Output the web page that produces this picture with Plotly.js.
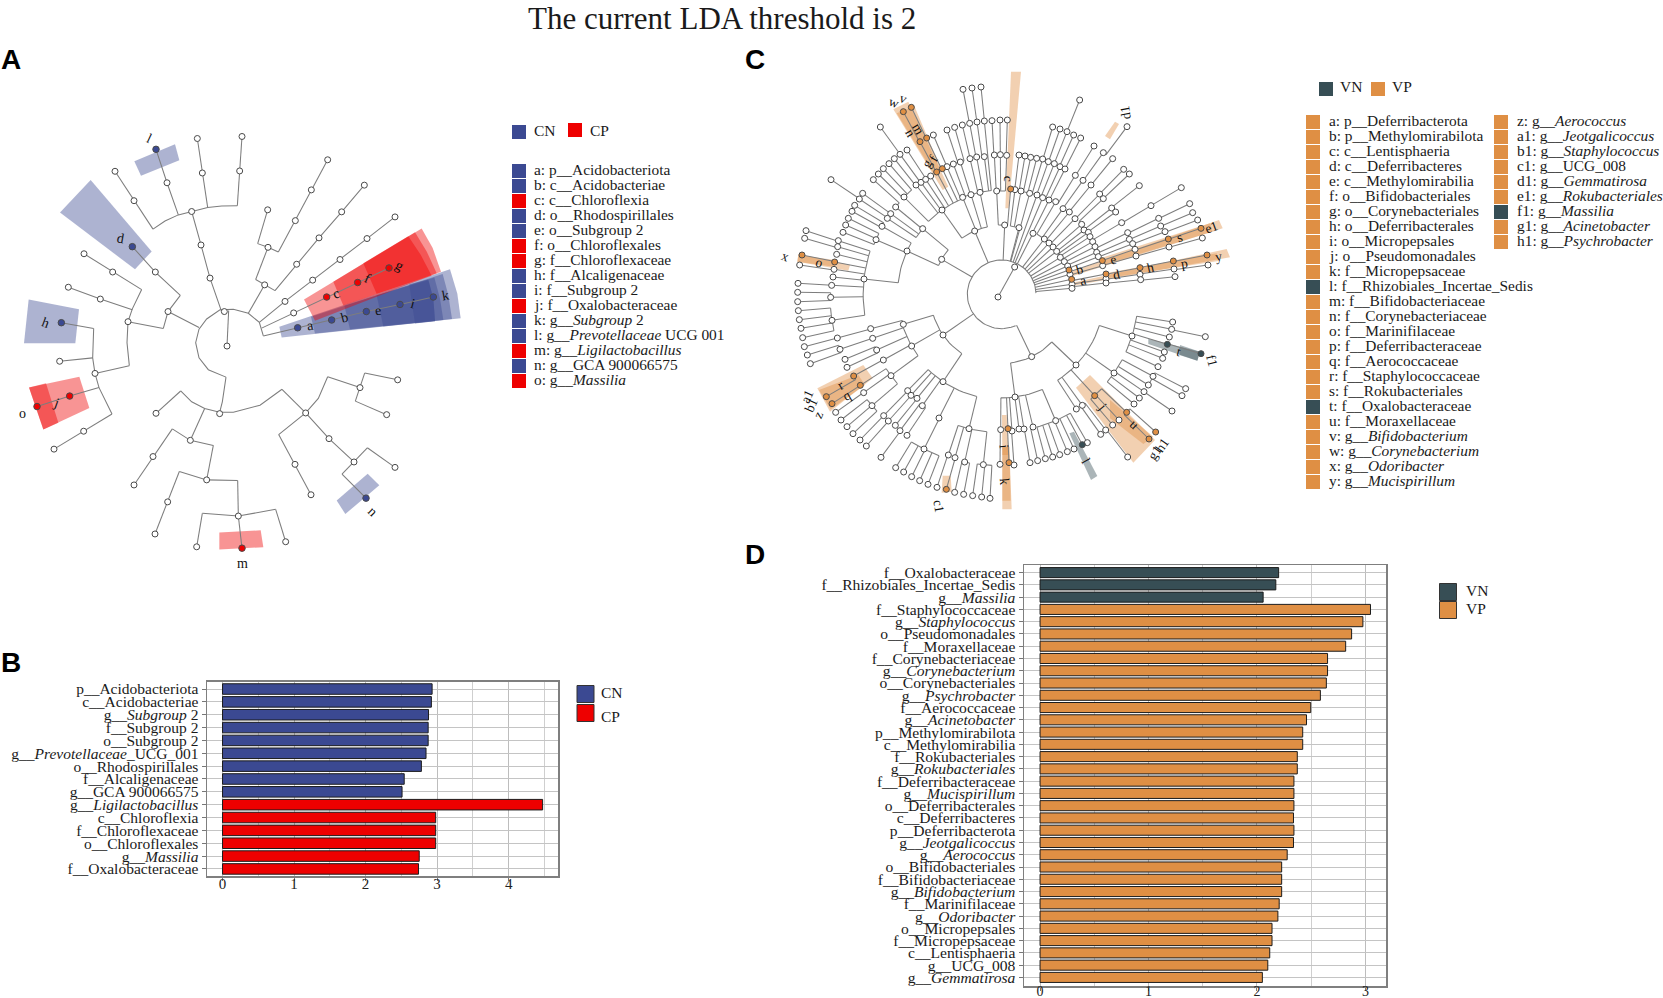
<!DOCTYPE html>
<html><head><meta charset="utf-8">
<script src="https://cdn.plot.ly/plotly-3.0.1.min.js"></script>
<style>html,body{margin:0;padding:0;background:#fff;overflow:hidden}</style>
</head><body><div id="chart" style="width:1663px;height:998px"></div>
<script>
const CN='#3B4992',CP='#EE0000',VN='#374E55',VP='#DF8F44';
const FONT='"Liberation Serif","Times New Roman",serif';

/* ---------- panel B bars ---------- */
const bLabels=['p__Acidobacteriota','c__Acidobacteriae','g__<i>Subgroup</i> 2','f__Subgroup 2','o__Subgroup 2','g__<i>Prevotellaceae</i>_UCG_001','o__Rhodospirillales','f__Alcaligenaceae','g__GCA 900066575','g__<i>Ligilactobacillus</i>','c__Chloroflexia','f__Chloroflexaceae','o__Chloroflexales','g__<i>Massilia</i>','f__Oxalobacteraceae'];
const bValues=[2.93,2.92,2.88,2.875,2.875,2.845,2.78,2.54,2.51,4.475,2.98,2.98,2.98,2.75,2.74];
const bGroups=['CN','CN','CN','CN','CN','CN','CN','CN','CN','CP','CP','CP','CP','CP','CP'];

/* ---------- panel D bars ---------- */
const dLabels=['f__Oxalobacteraceae','f__Rhizobiales_Incertae_Sedis','g__<i>Massilia</i>','f__Staphylococcaceae','g__<i>Staphylococcus</i>','o__Pseudomonadales','f__Moraxellaceae','f__Corynebacteriaceae','g__<i>Corynebacterium</i>','o__Corynebacteriales','g__<i>Psychrobacter</i>','f__Aerococcaceae','g__<i>Acinetobacter</i>','p__Methylomirabilota','c__Methylomirabilia','f__Rokubacteriales','g__<i>Rokubacteriales</i>','f__Deferribacteraceae','g__<i>Mucispirillum</i>','o__Deferribacterales','c__Deferribacteres','p__Deferribacterota','g__<i>Jeotgalicoccus</i>','g__<i>Aerococcus</i>','o__Bifidobacteriales','f__Bifidobacteriaceae','g__<i>Bifidobacterium</i>','f__Marinifilaceae','g__<i>Odoribacter</i>','o__Micropepsales','f__Micropepsaceae','c__Lentisphaeria','g__UCG_008','g__<i>Gemmatirosa</i>'];
const dValues=[2.20,2.174,2.057,3.047,2.977,2.873,2.818,2.651,2.651,2.64,2.585,2.496,2.457,2.422,2.422,2.372,2.372,2.341,2.341,2.341,2.337,2.341,2.337,2.279,2.228,2.228,2.228,2.205,2.193,2.139,2.139,2.118,2.10,2.05];
const dGroupCounts={VN:3,VP:31};

/* ---------- panel A legend ---------- */
const aKeys=['a: p__Acidobacteriota','b: c__Acidobacteriae','c: c__Chloroflexia','d: o__Rhodospirillales','e: o__Subgroup 2','f: o__Chloroflexales','g: f__Chloroflexaceae','h: f__Alcaligenaceae','i: f__Subgroup 2','j: f__Oxalobacteraceae','k: g__<i>Subgroup</i> 2','l: g__<i>Prevotellaceae</i> UCG 001','m: g__<i>Ligilactobacillus</i>','n: g__GCA 900066575','o: g__<i>Massilia</i>'];
const aKeyGroups=['CN','CN','CP','CN','CN','CP','CP','CN','CN','CP','CN','CN','CP','CN','CP'];

/* ---------- panel C legend ---------- */
const cKeys1=['a: p__Deferribacterota','b: p__Methylomirabilota','c: c__Lentisphaeria','d: c__Deferribacteres','e: c__Methylomirabilia','f: o__Bifidobacteriales','g: o__Corynebacteriales','h: o__Deferribacterales','i: o__Micropepsales','j: o__Pseudomonadales','k: f__Micropepsaceae','l: f__Rhizobiales_Incertae_Sedis','m: f__Bifidobacteriaceae','n: f__Corynebacteriaceae','o: f__Marinifilaceae','p: f__Deferribacteraceae','q: f__Aerococcaceae','r: f__Staphylococcaceae','s: f__Rokubacteriales','t: f__Oxalobacteraceae','u: f__Moraxellaceae','v: g__<i>Bifidobacterium</i>','w: g__<i>Corynebacterium</i>','x: g__<i>Odoribacter</i>','y: g__<i>Mucispirillum</i>'];
const cKeys2=['z: g__<i>Aerococcus</i>','a1: g__<i>Jeotgalicoccus</i>','b1: g__<i>Staphylococcus</i>','c1: g__UCG_008','d1: g__<i>Gemmatirosa</i>','e1: g__<i>Rokubacteriales</i>','f1: g__<i>Massilia</i>','g1: g__<i>Acinetobacter</i>','h1: g__<i>Psychrobacter</i>'];
const cVN=['l','t','f1'];

/* ---------- panel A cladogram ---------- */
const aBranches=[
[[790,905],[778,865],[745,838],[700,826],[660,828],[620,855],[597,885],[587,925],[597,970],[625,1005],[678,1027]],
[[681,935],[686,830]],
[[790,905],[893,881],[995,858],[1099,833],[1200,812],[1300,790]],
[[785,882],[881,837],[980,790],[1073,747],[1167,704]],
[[778,865],[855,803],[938,740],[1020,679],[1101,617],[1185,553]],
[[745,838],[794,754]],[[767,738],[794,754],[825,771]],[[767,738],[804,643]],
[[825,771],[890,693],[957,615],[1025,538],[1093,459]],
[[773,632],[804,643],[835,657]],[[773,632],[803,532]],[[835,657],[886,564],[934,473],[983,384]],
[[663,828],[630,734],[603,636],[575,537]],
[[459,589],[495,565],[535,547],[575,537],[623,525],[665,521],[712,520]],
[[459,589],[402,505],[345,418]],[[535,547],[501,452],[468,353]],[[623,525],[607,423],[592,321]],[[712,520],[719,417],[726,315]],
[[597,880],[504,833]],[[541,785],[504,833],[490,883]],[[541,785],[466,716],[397,641]],[[490,883],[384,863]],
[[425,768],[397,825],[384,863],[381,925],[388,993]],
[[425,768],[338,716],[252,662]],[[397,828],[301,796],[205,761]],[[388,993],[285,1016]],
[[281,883],[278,970],[285,1016],[297,1058],[336,1136]],
[[281,883],[184,866]],[[278,970],[179,980]],[[297,1058],[209,1083],[111,1114]],[[336,1136],[251,1187],[162,1240]],
[[678,1027],[667,1100],[659,1131]],
[[542,1068],[575,1100],[614,1120],[659,1131],[700,1131],[780,1110],[846,1063]],
[[542,1068],[468,1134]],[[614,1120],[571,1214]],[[517,1180],[571,1214],[640,1229]],
[[517,1180],[459,1262],[402,1346]],[[640,1229],[620,1331]],[[538,1306],[620,1331],[713,1333]],
[[538,1306],[503,1396],[465,1491]],[[713,1333],[715,1438]],[[607,1430],[715,1438],[827,1418]],
[[607,1430],[590,1529]],[[715,1438],[726,1533]],[[827,1418],[857,1514]],
[[846,1063],[917,1133]],[[983,1026],[955,1090],[917,1133],[836,1197]],
[[983,1026],[1080,1058]],[[1094,1015],[1080,1058],[1066,1098]],[[1094,1015],[1193,1035]],[[1066,1098],[1160,1138]],
[[836,1197],[885,1285],[933,1375]],[[917,1133],[987,1209],[1062,1278]],
[[1102,1236],[1062,1278],[1026,1314]],[[1102,1236],[1185,1294]],[[1026,1314],[1098,1385]]
];
const aOpen=[[673,833],[681,935],[881,837],[855,803],[938,740],[1020,679],[1101,617],[1185,553],[794,754],[804,643],[803,532],[890,693],[957,615],[1025,538],[1093,459],[886,564],[934,473],[983,384],[630,734],[603,636],[575,537],[402,505],[345,418],[501,452],[607,423],[592,321],[719,417],[726,315],[504,833],[466,716],[384,863],[338,716],[252,662],[301,796],[205,761],[285,1016],[179,980],[251,1187],[162,1240],[659,1135],[468,1134],[571,1214],[459,1262],[402,1346],[620,1331],[503,1396],[465,1491],[715,1438],[590,1529],[857,1514],[917,1133],[1080,1058],[1193,1035],[1160,1138],[885,1285],[933,1375],[987,1209],[1062,1278],[1185,1294]];
const aBlue=[[893,881],[995,858],[1099,833],[1200,812],[1300,790],[397,641],[468,353],[184,866],[1098,1385]];
const aRed=[[980,790],[1073,747],[1167,704],[209,1083],[111,1114],[726,1533]];
const aShadesBlue=[
[[838,878],[1350,708],[1372,780],[1382,853],[845,910]],
[[933,848],[1328,722],[1345,785],[1356,855],[945,898]],
[[1033,815],[1303,732],[1320,795],[1330,858],[1050,885]],
[[1130,785],[1285,740],[1300,795],[1305,862],[1150,877]],
[[1228,752],[1285,738],[1300,795],[1305,862],[1245,868]],
[[272,444],[455,655],[405,708],[180,540]],
[[403,388],[525,338],[538,385],[423,431]],
[[86,797],[237,826],[226,927],[72,927]],
[[1103,1313],[1138,1347],[1036,1432],[1010,1392]]];
const aShadesRed=[
[[912,797],[1265,587],[1298,645],[1323,715],[945,860]],
[[1000,745],[1245,598],[1280,655],[1310,720],[1030,815]],
[[1090,690],[1225,610],[1262,665],[1295,727],[1130,780]],
[[87,1058],[238,1026],[268,1118],[130,1182]],
[[87,1058],[138,1045],[175,1162],[130,1182]],
[[658,1487],[782,1480],[790,1530],[658,1537]]];
const aLetters=[['a',932,875,-10],['b',1033,852,-15],['c',1009,780,-20],['d',362,618,10],['e',1135,830,-10],['f',1103,735,25],['g',1198,697,30],['h',135,866,20],['i',1238,808,15],['j',168,1102,20],['k',1337,785,-10],['l',447,322,25],['m',726,1578,0],['n',1117,1425,45],['o',66,1135,0]];

/* ---------- panel C cladogram ---------- */
const cCentre=[845,733];
const N=(x,y,...k)=>({x,y,c:'o',k}), V=(x,y,...k)=>({x,y,c:'p',k}), K=(x,y,...k)=>({x,y,c:'n',k});
const cPhyla=[
N(764,543,
  N(666,480,
    N(552,441,N(507,341),N(490,356),N(475,372)),N(588,405,N(523,326)),N(603,397,N(540,313,N(481,231))),N(617,388,N(561,300)),N(632,378),
    V(650,366,V(600,275,V(550,185))),V(667,356,V(620,264,V(574,172))),N(681,350,N(640,255))),
  N(728,442,N(700,342,N(681,240)),N(721,336,N(704,232))),
  N(753,434,N(750,326,N(727,225))),
  N(780,427,N(770,321,N(749,220,N(729,118))),N(793,320,N(771,216,N(756,114))),N(793,213,N(783,111)))),
N(665,628,
  N(608,536,N(527,471,N(460,389)),N(512,491,N(428,430)),N(502,505,N(418,447,N(333,389)))),
  N(561,603,N(486,529,N(404,466),N(396,484)),N(468,569,N(385,505),N(377,525),N(369,547)),
    N(432,687,N(355,572,N(258,542)),N(353,590,N(254,565)),N(350,613),V(344,636,V(246,615)),N(342,658,N(239,645)),N(339,681),N(335,706,N(234,700)),N(332,742,N(233,727),N(233,755)),N(336,811,N(235,782),N(238,809),N(243,835),N(248,863))))),
N(669,855,
  N(550,823,N(452,836,N(352,864,N(253,890)))),
  N(575,888,N(458,865,N(360,898,N(262,915),N(271,941))),N(470,900,N(375,928),N(381,952)),N(490,930,V(401,978,V(319,1040))),
    N(513,977,V(421,1006,V(336,1061)),N(431,1028,N(347,1087)),N(456,1067,N(363,1110),N(381,1130),N(399,1151)))),
  N(669,995,N(563,1022,N(491,1097,N(420,1170))),N(573,1036,N(505,1113,N(439,1188))),N(591,1045,N(526,1126)),N(607,1067,N(540,1142,N(483,1222)),N(561,1156)),
    N(657,1104,N(612,1197,N(527,1253),N(551,1266),N(575,1280),N(599,1292),N(624,1303))),
    N(747,1136,N(685,1215,N(651,1312)),N(705,1223,V(679,1318)),N(734,1236,N(704,1327),N(731,1333)),N(790,1244,N(758,1337),N(785,1341),N(810,1345))))),
N(935,920,
  N(885,1041,N(842,1139,N(840,1243)),V(864,1136,V(867,1238)),N(876,1143,N(882,1245)),N(897,1137),N(912,1137,N(930,1238)),N(939,1131,N(953,1232)),
    N(1007,1112,N(976,1226),N(998,1221),N(1019,1214),N(1042,1205),N(1062,1197),K(1087,1184),N(1102,1178))),
  N(1068,945,N(1069,1077),N(1087,1066,N(1142,1153),N(1157,1140,N(1223,1221))),V(1124,1037,N(1178,1125),N(1197,1110),V(1220,1087,V(1307,1146),V(1287,1167))),
    N(1182,969,N(1299,979,N(1397,1016)),N(1285,1005,N(1386,1037)),N(1272,1025,N(1356,1083)),N(1258,1044),N(1242,1062)),
    N(1236,858,N(1358,816),N(1355,838,N(1456,860)),N(1348,861),K(1342,883,K(1443,911)),N(1333,906),N(1328,925),N(1314,950)))),
N(854,525,N(830,423,N(823,315,N(816,212)),N(841,314,N(840,210)),N(860,316,N(862,210))),V(872,417)),
N(897,533,N(885,419,N(897,315)),N(903,423,N(915,318))),
N(929,430,N(932,322),N(950,325)),
N(951,435,N(968,327,N(998,231)),N(985,335,N(1020,237))),
N(968,443,N(1003,341,N(1041,245,N(1079,150)))),
N(939,550,N(987,450,N(1020,350,N(1061,255)),N(1035,357,N(1082,264)))),
N(973,567,N(1007,455,N(1066,376,N(1122,288))),N(1029,476,N(1089,391,N(1150,308,N(1221,230))))),
N(987,579,N(1048,486,N(1113,405,N(1178,326)))),
N(999,591,N(1065,506,N(1139,432,N(1211,358))),N(1085,523,N(1150,446,N(1228,372)))),
N(1010,604,N(1092,540,N(1175,474,N(1258,407)))),
N(1021,622,N(1105,547,N(1187,486)),N(1110,560)),
N(1033,635,N(1118,575,N(1205,518,N(1293,467,N(1384,413)))),N(1125,590,N(1223,548,N(1316,505,N(1409,461))))),
N(1043,648,N(1130,607,N(1228,568,N(1322,528,N(1418,488)))),N(1135,620,N(1238,581,N(1335,545,N(1433,510))))),
V(1047,660,V(1147,632,N(1245,598,V(1345,567,V(1443,535))))),
N(1050,673,N(1148,647,N(1248,618,N(1347,591,N(1447,564))))),
V(1055,688,V(1158,672,V(1260,653,V(1360,633,V(1461,615))))),
N(1056,703,N(1158,687,N(1260,673,N(1362,657,N(1464,645))))),
N(1056,715,N(1158,699,N(1262,689,N(1365,680))))
];
const cExtraLines=[[[834,741],[884,651]]];
const cExtraOpen=[[834,741],[884,651]];
const cShadesVP=[
[[873,65],[903,65],[866,475],[856,475]],
[[520,178],[565,155],[685,410],[668,420]],
[[530,190],[583,168],[662,355],[640,368]],
[[1185,215],[1197,222],[1170,268],[1155,258]],
[[1045,668],[1497,510],[1508,535],[1052,680]],
[[1140,625],[1470,520],[1478,545],[1150,645]],
[[1050,700],[1520,597],[1530,622],[1055,708]],
[[1155,670],[1490,610],[1495,633],[1160,685]],
[[235,612],[390,645],[385,662],[232,635]],
[[235,615],[345,630],[343,650],[232,635]],
[[292,1015],[430,945],[458,985],[330,1085]],
[[297,1020],[415,975],[435,1005],[332,1078]],
[[668,1277],[692,1277],[695,1325],[665,1328]],
[[846,1095],[860,1095],[866,1215],[847,1215]],
[[847,1190],[868,1190],[875,1378],[847,1378]],
[[847,1190],[868,1190],[872,1352],[847,1352]],
[[1110,975],[1305,1170],[1240,1238],[1068,1013]],
[[1170,1050],[1300,1160],[1270,1182],[1170,1105]]];
const cShadesVN=[
[[1048,1150],[1062,1145],[1132,1278],[1113,1290]],
[[1285,866],[1440,905],[1432,932],[1285,882]],
[[1380,885],[1440,905],[1432,932],[1378,915]]];
const cLetters=[['a',1088,690,-12],['b',1078,657,-15],['c',866,385,90],['d',1190,672,-12],['e',1180,627,-15],['f',640,325,-60],['g',620,340,-60],['h',1292,652,-12],['i',852,1190,85],['j',1148,1070,50],['k',855,1293,85],['l',1097,1232,60],['m',594,236,60],['n',570,248,60],['o',297,636,15],['p',1393,640,-10],['q',380,1035,-30],['r',360,1005,-30],['s',1377,563,-18],['t',1376,903,15],['u',1243,1123,45],['v',550,145,20],['w',523,157,20],['x',197,618,20],['y',1495,618,-10],['z',293,1095,-65],['a1',262,1040,-65],['b1',272,1065,-65],['c1',658,1368,80],['d1',1217,188,-100],['e1',1473,532,-20],['f1',1475,932,75],['g1',1305,1208,-55],['h1',1325,1185,-55]];

/* ---------- build ---------- */
const traces=[],ann=[];
const W=1663,H=998;
function bars(labels,values,colors,name,xa,ya,barw){
  colors.forEach(([g,col])=>{
    const xs=[],ys=[];
    labels.forEach((l,i)=>{ if(name[i]===g){ys.push(l);xs.push(values[i]);} });
    traces.push({type:'bar',orientation:'h',x:xs,y:ys,xaxis:xa,yaxis:ya,width:barw,name:g,showlegend:false,hoverinfo:'skip',
      marker:{color:col,line:{color:'#1c1c1c',width:1}}});
  });
}
bars(bLabels,bValues,[['CN',CN],['CP',CP]],bGroups,'x','y',0.82);
const dGroups=[...Array(dGroupCounts.VN).fill('VN'),...Array(dGroupCounts.VP).fill('VP')];
bars(dLabels,dValues,[['VN',VN],['VP',VP]],dGroups,'x2','y2',0.82);

function poly(p,col,xa,ya){
  traces.push({type:'scatter',mode:'lines',x:[...p.map(q=>q[0]),p[0][0]],y:[...p.map(q=>q[1]),p[0][1]],fill:'toself',
    fillcolor:col,line:{width:0,color:'rgba(0,0,0,0)'},xaxis:xa,yaxis:ya,showlegend:false,hoverinfo:'skip'});
}
function linesTrace(list,xa,ya){
  const x=[],y=[];
  list.forEach(l=>{l.forEach(q=>{x.push(q[0]);y.push(q[1]);});x.push(null);y.push(null);});
  traces.push({type:'scatter',mode:'lines',x,y,line:{color:'#7d7d7d',width:1.05},xaxis:xa,yaxis:ya,showlegend:false,hoverinfo:'skip'});
}
function dots(list,col,xa,ya,size){
  if(!list.length) return;
  traces.push({type:'scatter',mode:'markers',x:list.map(q=>q[0]),y:list.map(q=>q[1]),xaxis:xa,yaxis:ya,showlegend:false,hoverinfo:'skip',
    marker:{size,color:col,line:{color:'#4a4a4a',width:1}}});
}
function letters(list,xa,ya,size){
  list.forEach(([t,x,y,a])=>ann.push({text:t,x,y,xref:xa,yref:ya,showarrow:false,textangle:a,font:{family:FONT,size,color:'#111'}}));
}

/* panel A */
aShadesBlue.forEach(p=>poly(p,'rgba(59,73,146,0.42)','x3','y3'));
aShadesRed.forEach(p=>poly(p,'rgba(238,0,0,0.42)','x3','y3'));
linesTrace(aBranches,'x3','y3');
dots(aOpen,'#fff','x3','y3',6);
dots(aBlue,CN,'x3','y3',6.5);
dots(aRed,CP,'x3','y3',6.5);
letters(aLetters,'x3','y3',14);

/* panel C: tree walked through its own polar geometry */
const cLines=[],cOpen=[...cExtraOpen],cP=[],cK=[];
const pol=n=>{const dx=n.x-cCentre[0],dy=n.y-cCentre[1];return [Math.hypot(dx,dy),Math.atan2(dy,dx)];};
const at=(r,a)=>[cCentre[0]+r*Math.cos(a),cCentre[1]+r*Math.sin(a)];
function walk(n){
  (n.c==='p'?cP:n.c==='n'?cK:cOpen).push([n.x,n.y]);
  if(!n.k.length) return;
  const [r,a]=pol(n);
  let lo=0,hi=0;
  n.k.forEach(ch=>{
    let d=pol(ch)[1]-a; if(d>Math.PI)d-=2*Math.PI; if(d<-Math.PI)d+=2*Math.PI;
    lo=Math.min(lo,d);hi=Math.max(hi,d);
    cLines.push([at(r,a+d),[ch.x,ch.y]]);
    walk(ch);
  });
  const arc=[];for(let i=0;i<=12;i++)arc.push(at(r,a+lo+(hi-lo)*i/12));
  cLines.push(arc);
}
const cR=103;
const circle=[];for(let d=-2;d>=-296;d-=4)circle.push(at(cR,d*Math.PI/180));
cLines.push(circle);
cPhyla.forEach(p=>{cLines.push([at(cR,pol(p)[1]),[p.x,p.y]]);walk(p);});
cExtraLines.forEach(l=>cLines.push(l));
cShadesVP.forEach(p=>poly(p,'rgba(223,143,68,0.42)','x4','y4'));
cShadesVN.forEach(p=>poly(p,'rgba(55,78,85,0.42)','x4','y4'));
linesTrace(cLines,'x4','y4');
dots(cOpen,'#fff','x4','y4',6);
dots(cP,VP,'x4','y4',6);
dots(cK,VN,'x4','y4',6);
letters(cLetters,'x4','y4',13.5);

/* legends on a page-scaled axis */
function keyColumn(labels,colors,sx,tx,y0,dy){
  const x=[],y=[];
  labels.forEach((l,i)=>{
    x.push(sx);y.push(y0+i*dy);
    ann.push({text:l,x:tx,y:y0+i*dy-2,xref:'x5',yref:'y5',xanchor:'left',showarrow:false,font:{family:FONT,size:15.4,color:'#1a1a1a'}});
  });
  traces.push({type:'scatter',mode:'markers',x,y,xaxis:'x5',yaxis:'y5',showlegend:false,hoverinfo:'skip',
    marker:{symbol:'square',size:14,color:colors,line:{width:0}}});
}
function oneKey(label,col,sx,tx,y,ty,size,border){
  traces.push({type:'scatter',mode:'markers',x:[sx],y:[y],xaxis:'x5',yaxis:'y5',showlegend:false,hoverinfo:'skip',
    marker:{symbol:'square',size,color:col,line:{width:border?1:0,color:'#333'}}});
  ann.push({text:label,x:tx,y:ty,xref:'x5',yref:'y5',xanchor:'left',showarrow:false,font:{family:FONT,size:15.5,color:'#1a1a1a'}});
}
oneKey('CN',CN,519,532,132,130.5,14);oneKey('CP',CP,575,588,130,130.5,14);
keyColumn(aKeys,aKeyGroups.map(g=>g==='CN'?CN:CP),519,532,171,15);
oneKey('VN',VN,1326,1338,89,86.5,14);oneKey('VP',VP,1378,1389.5,89,86.5,14);
const keyLetter=s=>s.split(':')[0];
keyColumn(cKeys1,cKeys1.map(s=>cVN.includes(keyLetter(s))?VN:VP),1313,1327,122,15);
keyColumn(cKeys2,cKeys2.map(s=>cVN.includes(keyLetter(s))?VN:VP),1501,1515,122,15);
oneKey('CN',CN,585.5,599,694,692.5,17,true);oneKey('CP',CP,585.5,599,713,716,17,true);
oneKey('VN',VN,1448,1464,592,590.5,17,true);oneKey('VP',VP,1448,1464,610,608.5,17,true);

/* title + panel letters */
ann.push({text:'The current LDA threshold is 2',x:722,y:18,xref:'x5',yref:'y5',showarrow:false,font:{family:FONT,size:31,color:'#1a1a1a'}});
[['A',11,59],['B',11,662],['C',755,59],['D',755,554]].forEach(([t,x,y])=>ann.push({text:'<b>'+t+'</b>',x,y,xref:'x5',yref:'y5',showarrow:false,font:{family:'"Liberation Sans",Arial,sans-serif',size:28,color:'#000'}}));

const domX=(a,b)=>[a/W,b/W], domY=(t,b)=>[1-b/H,1-t/H];
const hidden={visible:false,fixedrange:true};
const valAxis=(dom,rng,ya,standoff,fs)=>({domain:dom,range:rng,anchor:ya,tick0:0,dtick:1,showgrid:true,gridcolor:'#bdbdbd',gridwidth:1,zeroline:false,
  minor:{dtick:0.5,tick0:0,showgrid:true,gridcolor:'#cfcfcf',gridwidth:1,ticks:''},ticks:'outside',ticklen:3,tickcolor:'#777',ticklabelstandoff:standoff,
  showline:true,linecolor:'#7f7f7f',linewidth:1.5,mirror:true,tickfont:{family:FONT,size:fs,color:'#222'}});
const catAxis=(dom,rng,xa,cats,fs)=>({domain:dom,range:rng,anchor:xa,type:'category',categoryorder:'array',categoryarray:cats,tickmode:'array',tickvals:cats,ticktext:cats,
  showgrid:true,gridcolor:'#c4c4c4',gridwidth:1,ticks:'outside',ticklen:4,tickcolor:'#777',showline:true,linecolor:'#7f7f7f',linewidth:1.5,mirror:true,automargin:false,
  tickfont:{family:FONT,size:fs,color:'#1a1a1a'}});

const layout={width:W,height:H,margin:{l:0,r:0,t:0,b:0},paper_bgcolor:'#fff',plot_bgcolor:'rgba(0,0,0,0)',showlegend:false,barmode:'overlay',
  xaxis:valAxis(domX(207,558),[-0.217,4.69],'y',-10,15),
  yaxis:catAxis(domY(681.7,876),[14.55,-0.57],'x',bLabels,15.5),
  xaxis2:valAxis(domX(1024,1386),[-0.148,3.19],'y2',-11,14),
  yaxis2:catAxis(domY(565,986),[33.7,-0.62],'x2',dLabels,15.6),
  xaxis3:{...hidden,domain:domX(0,480),range:[0,1440],anchor:'y3'},
  yaxis3:{...hidden,domain:domY(30,570),range:[1597.6,0],anchor:'x3'},
  xaxis4:{...hidden,domain:domX(720,1260),range:[0,1620],anchor:'y4'},
  yaxis4:{...hidden,domain:domY(50,530),range:[1440,0],anchor:'x4'},
  xaxis5:{...hidden,domain:[0,1],range:[0,W],anchor:'y5'},
  yaxis5:{...hidden,domain:[0,1],range:[H,0],anchor:'x5'},
  annotations:ann};
Plotly.newPlot('chart',traces,layout,{staticPlot:true,displayModeBar:false});
</script></body></html>
